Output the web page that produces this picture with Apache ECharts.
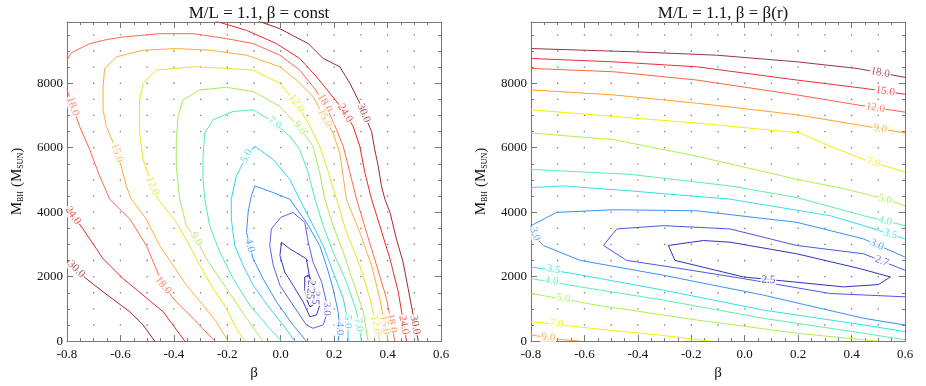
<!DOCTYPE html>
<html>
<head>
<meta charset="utf-8">
<script src="https://cdn.jsdelivr.net/npm/echarts@6/dist/echarts.min.js"></script>
<style>
html, body { margin: 0; padding: 0; background: #fff; }
#chart { width: 926px; height: 386px; }
</style>
</head>
<body>
<div id="chart"></div>
<script>
var FONT = "'Liberation Serif', 'DejaVu Serif', serif";

var betaMin = -0.8, betaMax = 0.6, betaStep = 0.2;
var massMin = 0, massMax = 9900, massStep = 2000;
var titles = ["M/L = 1.1, \u03b2 = const", "M/L = 1.1, \u03b2 = \u03b2(r)"];

// model grid points (dots)
var sampleBetas = [-0.7, -0.6, -0.5, -0.4, -0.3, -0.2, -0.1, 0.0, 0.1, 0.2, 0.3, 0.4, 0.5];
var sampleMasses = [500, 1000, 1500, 2000, 2500, 3000, 3500, 4000, 4500, 5000, 5500, 6000, 6500, 7000, 7500, 8000, 8500, 9000, 9500];

// ---- left panel: beta = const ----
var constLevels = ["2.25", "2.5", "3.0", "4.0", "5.0", "7.0", "9.0", "12.0", "15.0", "18.0", "24.0", "30.0"];
var constColors = ["#2a20a8", "#3a36cc", "#5a64e6", "#3a8ef6", "#36d2f2", "#52eab4", "#a6ea5a", "#ece418", "#ffac3a", "#ff6a48", "#e82a2a", "#a02a2a"];

var const30Right = [[-0.091,9949],[-0.003,9692],[0.103,9230],[0.159,8768],[0.221,8511],[0.259,7998],[0.296,7381],[0.321,6868],[0.340,6508],[0.352,5944],[0.365,5430],[0.377,4814],[0.390,4403],[0.409,3992],[0.433,3171],[0.458,2452],[0.477,1630],[0.496,809],[0.515,0]];
var const30Left = [[-0.8,2503],[-0.728,1938],[-0.665,1527],[-0.615,1219],[-0.565,911],[-0.515,500],[-0.472,0]];
var const24Right = [[-0.253,9949],[-0.228,9887],[-0.128,9641],[-0.016,9230],[0.071,8768],[0.134,8203],[0.184,7689],[0.234,7176],[0.271,6662],[0.296,6046],[0.315,5225],[0.340,4403],[0.371,3581],[0.409,2554],[0.440,1527],[0.471,0]];
var const24Left = [[-0.8,4146],[-0.740,3479],[-0.665,2554],[-0.590,1938],[-0.515,1425],[-0.440,911],[-0.359,0]];
var const18Top = [[-0.8,8716],[-0.784,8942],[-0.715,9230],[-0.653,9353],[-0.590,9435],[-0.453,9538],[-0.328,9538],[-0.203,9384],[-0.103,9230],[-0.003,8870],[0.071,8408],[0.121,7895],[0.165,7381],[0.209,6560],[0.234,6046],[0.259,5225],[0.284,4403],[0.321,3376],[0.359,2349],[0.396,1322],[0.427,0]];
var const18Left = [[-0.8,7792],[-0.778,7279],[-0.753,6662],[-0.715,5944],[-0.678,5122],[-0.640,4403],[-0.565,3787],[-0.503,2965],[-0.440,1733],[-0.391,1219],[-0.328,706],[-0.247,0]];
var const15 = [[-0.197,0],[-0.241,603],[-0.291,1116],[-0.353,1733],[-0.403,2349],[-0.453,2965],[-0.503,3787],[-0.559,4403],[-0.578,4814],[-0.597,5430],[-0.621,6046],[-0.653,6662],[-0.665,7176],[-0.665,7895],[-0.659,8460],[-0.615,8819],[-0.515,9025],[-0.391,9076],[-0.266,9025],[-0.128,8870],[-0.003,8511],[0.059,8100],[0.121,7587],[0.165,6919],[0.196,6457],[0.221,5841],[0.246,4403],[0.296,3376],[0.340,2349],[0.371,1322],[0.402,0]];
var const12 = [[-0.135,0],[-0.166,398],[-0.203,1014],[-0.253,1630],[-0.303,2349],[-0.341,2965],[-0.391,3684],[-0.459,4403],[-0.490,5019],[-0.515,5635],[-0.528,6457],[-0.528,7484],[-0.515,7998],[-0.465,8408],[-0.328,8511],[-0.203,8460],[-0.103,8408],[-0.003,7998],[0.059,7381],[0.109,6663],[0.146,6046],[0.171,5430],[0.209,4403],[0.246,3376],[0.296,2349],[0.334,1322],[0.371,0]];
var const9 = [[-0.066,0],[-0.128,706],[-0.178,1322],[-0.228,1938],[-0.278,2554],[-0.316,3171],[-0.353,3581],[-0.378,4403],[-0.391,5430],[-0.391,6252],[-0.384,6971],[-0.366,7484],[-0.303,7792],[-0.203,7874],[-0.103,7741],[-0.003,7279],[0.071,6611],[0.121,6046],[0.146,5225],[0.165,4403],[0.196,3581],[0.234,2760],[0.271,1836],[0.309,911],[0.327,0]];
var const7 = [[0.003,0],[-0.053,500],[-0.116,1116],[-0.178,1938],[-0.228,2760],[-0.266,3581],[-0.284,4403],[-0.291,5019],[-0.291,5738],[-0.284,6457],[-0.253,6868],[-0.178,7125],[-0.103,7176],[-0.022,6765],[0.034,6354],[0.071,5944],[0.103,5225],[0.128,4403],[0.159,3581],[0.196,2760],[0.246,1836],[0.284,911],[0.302,0]];
var const5 = [[0.053,0],[0.009,500],[-0.041,1014],[-0.103,1733],[-0.141,2349],[-0.172,2965],[-0.185,3787],[-0.185,4403],[-0.166,5122],[-0.128,5738],[-0.097,6046],[-0.028,5635],[0.034,5019],[0.071,4403],[0.109,3787],[0.159,2965],[0.196,2144],[0.234,1322],[0.252,603],[0.252,0]];
var const4 = [[0.096,0],[0.046,500],[-0.016,1219],[-0.066,1938],[-0.103,2554],[-0.116,2965],[-0.128,3376],[-0.122,3992],[-0.110,4506],[-0.097,4814],[-0.028,4608],[0.034,4403],[0.096,3684],[0.146,2965],[0.171,2349],[0.196,1630],[0.215,911],[0.221,398],[0.215,0]];
var const3 = [[0.0,3838],[-0.035,3479],[-0.041,2965],[-0.028,2349],[-0.003,1733],[0.046,1116],[0.096,500],[0.121,398],[0.159,500],[0.171,809],[0.171,1219],[0.153,1836],[0.121,2452],[0.103,3068],[0.090,3684],[0.046,3992],[0.0,3838]];
var const25 = [[0.003,3068],[0.034,2862],[0.096,2554],[0.109,1938],[0.134,1527],[0.146,1116],[0.134,809],[0.109,757],[0.084,1219],[0.046,1733],[0.015,2144],[-0.003,2657],[0.003,3068]];
var const225 = [[0.090,1990],[0.103,2041],[0.121,1836],[0.128,1425],[0.121,1116],[0.109,1065],[0.096,1322],[0.090,1630],[0.090,1990]];

var constSegments = [
    ["30.0", const30Right], ["30.0", const30Left], ["24.0", const24Right], ["24.0", const24Left],
    ["18.0", const18Top], ["18.0", const18Left], ["15.0", const15], ["12.0", const12],
    ["9.0", const9], ["7.0", const7], ["5.0", const5], ["4.0", const4],
    ["3.0", const3], ["2.5", const25], ["2.25", const225]
];
// contour labels: level, beta, mass, angle
var constLabels = [
    ["30.0", 0.311, 7073, -68], ["30.0", 0.503, 500, -79], ["30.0", -0.765, 2230, -44],
    ["24.0", 0.241, 7073, -59], ["24.0", 0.461, 500, -80], ["24.0", -0.778, 3900, -54],
    ["18.0", 0.165, 7381, -60], ["18.0", -0.778, 7279, -71], ["18.0", -0.44, 1733, -52], ["18.0", 0.415, 550, -79],
    ["15.0", 0.165, 6919, -62], ["15.0", -0.613, 5841, -72], ["15.0", 0.390, 500, -79],
    ["12.0", 0.059, 7381, -55], ["12.0", -0.48, 4814, -67], ["12.0", 0.357, 500, -77],
    ["9.0", 0.071, 6611, -50], ["9.0", -0.316, 3171, -58],
    ["7.0", -0.022, 6765, -37], ["7.0", 0.292, 500, -81],
    ["5.0", -0.128, 5738, 63], ["5.0", 0.252, 603, -90],
    ["4.0", -0.116, 2965, -76], ["4.0", 0.221, 398, -90],
    ["3.0", 0.171, 1000, -90], ["2.5", 0.130, 1350, -95], ["2.25", 0.112, 1600, -95]
];

// ---- right panel: beta = beta(r) ----
var radLevels = ["2.5", "2.7", "3.0", "3.5", "4.0", "5.0", "7.0", "9.0", "12.0", "15.0", "18.0"];
var radColors = ["#3232c0", "#4a58e8", "#3a90fa", "#34e0ea", "#5ef0a8", "#b0f050", "#f4f000", "#ffa424", "#ff6444", "#e8303c", "#a03040"];

var rad18 = [[-0.8,9076],[-0.404,8973],[-0.105,8870],[0.195,8665],[0.42,8460],[0.6,8182]];
var rad15 = [[-0.8,8768],[-0.492,8665],[-0.18,8511],[0.195,8100],[0.445,7843],[0.6,7659]];
var rad12 = [[-0.8,8460],[-0.492,8357],[-0.18,8100],[0.195,7638],[0.42,7330],[0.6,7104]];
var rad9 = [[-0.8,7792],[-0.492,7638],[-0.18,7381],[0.195,7022],[0.42,6714],[0.6,6457]];
var rad9Low = [[-0.8,193],[-0.704,60],[-0.616,0]];
var rad7 = [[-0.8,7176],[-0.492,6970],[-0.18,6765],[0.207,6457],[0.32,6046],[0.445,5635],[0.6,5245]];
var rad7Low = [[-0.8,604],[-0.554,378],[-0.304,173],[-0.13,0]];
var rad5 = [[-0.8,6457],[-0.492,6251],[-0.18,5738],[0.195,5019],[0.382,4711],[0.526,4404],[0.6,4198]];
var rad5Low = [[-0.8,1477],[-0.554,1117],[-0.18,655],[0.195,244],[0.495,0]];
var rad4 = [[-0.8,5327],[-0.429,5173],[-0.055,4814],[0.195,4455],[0.445,3890],[0.6,3582]];
var rad4Low = [[-0.8,1939],[-0.616,1682],[-0.304,1271],[0.07,707],[0.445,244],[0.6,39]];
var rad35 = [[-0.8,4763],[-0.679,4814],[-0.429,4660],[-0.055,4404],[0.32,3890],[0.445,3582],[0.6,3171]];
var rad35Low = [[-0.8,2299],[-0.641,2093],[-0.304,1580],[0.07,963],[0.445,501],[0.6,296]];
var rad3 = [[0.6,2607],[0.445,3171],[0.195,3685],[-0.18,4044],[-0.492,4075],[-0.704,3993],[-0.8,3582],[-0.797,3326],[-0.754,2966],[-0.616,2504],[-0.304,2042],[0.07,1426],[0.445,707],[0.6,501]];
var rad27 = [[0.6,2196],[0.445,2709],[0.195,2966],[-0.055,3480],[-0.304,3582],[-0.479,3480],[-0.529,2966],[-0.442,2504],[-0.254,2268],[-0.005,1939],[0.32,1477],[0.6,1374]];
var rad25 = [[-0.286,2966],[-0.261,2504],[-0.005,1990],[0.37,1682],[0.501,1754],[0.545,1990],[0.432,2247],[0.195,2709],[-0.055,3069],[-0.155,3120],[-0.286,2966]];

var radSegments = [
    ["18.0", rad18], ["15.0", rad15], ["12.0", rad12], ["9.0", rad9], ["9.0", rad9Low],
    ["7.0", rad7], ["7.0", rad7Low], ["5.0", rad5], ["5.0", rad5Low], ["4.0", rad4], ["4.0", rad4Low],
    ["3.5", rad35], ["3.5", rad35Low], ["3.0", rad3], ["2.7", rad27], ["2.5", rad25]
];
var radLabels = [
    ["18.0", 0.507, 8326, -11], ["15.0", 0.526, 7750, -8], ["12.0", 0.489, 7243, -9], ["9.0", 0.507, 6590, -10],
    ["7.0", 0.482, 5542, -17], ["5.0", 0.526, 4404, -15], ["4.0", 0.526, 3729, -14], ["3.5", 0.545, 3317, -18],
    ["3.0", 0.495, 2989, -24], ["2.7", 0.513, 2484, -22], ["2.5", 0.089, 1900, -2],
    ["3.0", -0.785, 3326, -70], ["3.5", -0.716, 2227, -9], ["4.0", -0.723, 1867, -8],
    ["5.0", -0.679, 1323, -10], ["7.0", -0.704, 540, -8], ["9.0", -0.735, 120, -5]
];

function level_color(levels, colors, level) {
    return colors[levels.indexOf(level)];
}

function build_contours(segments, levels, colors, axis) {
    var out = [];
    segments.forEach(function (seg) {
        out.push({
            type: "line",
            xAxisIndex: axis,
            yAxisIndex: axis,
            data: seg[1],
            symbol: "none",
            silent: true,
            animation: false,
            z: 3,
            lineStyle: {color: level_color(levels, colors, seg[0]), width: 1}
        });
    });
    return out;
}

function build_labels(labels, levels, colors, axis) {
    var data = labels.map(function (l) {
        var c = level_color(levels, colors, l[0]);
        return {
            name: l[0],
            value: [l[1], l[2]],
            label: {rotate: l[3], color: c}
        };
    });
    return {
        type: "scatter",
        xAxisIndex: axis,
        yAxisIndex: axis,
        data: data,
        symbolSize: 1,
        itemStyle: {color: "rgba(0,0,0,0)"},
        silent: true,
        animation: false,
        z: 5,
        labelLayout: {hideOverlap: false},
        label: {
            show: true,
            position: "inside",
            formatter: "{b}",
            fontFamily: FONT,
            fontSize: 11,
            backgroundColor: "#fff",
            padding: [0, 1]
        }
    };
}

function build_dots(axis) {
    var pts = [];
    sampleBetas.forEach(function (b) {
        sampleMasses.forEach(function (m) {
            pts.push([b, m]);
        });
    });
    return {
        type: "scatter",
        xAxisIndex: axis,
        yAxisIndex: axis,
        data: pts,
        symbol: "rect",
        symbolSize: 1.3,
        itemStyle: {color: "#555"},
        silent: true,
        animation: false,
        z: 1
    };
}

function x_axis(grid, top) {
    return {
        type: "value",
        gridIndex: grid,
        position: top ? "top" : "bottom",
        min: betaMin,
        max: betaMax,
        interval: betaStep,
        name: top ? "" : "\u03b2",
        nameLocation: "middle",
        nameGap: 24,
        nameTextStyle: {fontFamily: FONT, fontSize: 15, color: "#111"},
        axisLine: {show: true, onZero: false, lineStyle: {color: "#777", width: 1}},
        axisTick: {show: true, inside: true, length: 6, lineStyle: {color: "#777"}},
        minorTick: {show: true, splitNumber: 4, length: 3, lineStyle: {color: "#777"}},
        splitLine: {show: false},
        axisLabel: {
            show: !top,
            margin: 7,
            fontFamily: FONT,
            fontSize: 13,
            color: "#111",
            formatter: function (v) { return v.toFixed(1); }
        }
    };
}

function y_axis(grid, right) {
    return {
        type: "value",
        gridIndex: grid,
        position: right ? "right" : "left",
        min: massMin,
        max: massMax,
        interval: massStep,
        name: right ? "" : "M{sub|BH} (M{sub|SUN})",
        nameLocation: "middle",
        nameRotate: 90,
        nameGap: 42,
        nameTextStyle: {
            fontFamily: FONT, fontSize: 15, color: "#111",
            rich: {
                sub: {fontFamily: FONT, fontSize: 8, color: "#111", padding: [6, 0, 0, 0]}
            }
        },
        axisLine: {show: true, onZero: false, lineStyle: {color: "#777", width: 1}},
        axisTick: {show: true, inside: true, length: 6, lineStyle: {color: "#777"}},
        minorTick: {show: true, splitNumber: 4, length: 3, lineStyle: {color: "#777"}},
        splitLine: {show: false},
        axisLabel: {
            show: !right,
            margin: 4,
            fontFamily: FONT,
            fontSize: 13,
            color: "#111",
            showMaxLabel: false,
            formatter: function (v) { return v % massStep === 0 ? String(v) : ""; }
        }
    };
}

var chart = echarts.init(document.getElementById("chart"), null, {renderer: "canvas"});

var series = [build_dots(0), build_dots(1)]
    .concat(build_contours(constSegments, constLevels, constColors, 0))
    .concat(build_contours(radSegments, radLevels, radColors, 1))
    .concat([build_labels(constLabels, constLevels, constColors, 0), build_labels(radLabels, radLevels, radColors, 1)]);

var option = {
    backgroundColor: "#fff",
    animation: false,
    title: [
        {text: titles[0], left: 254, top: 0, textAlign: "center", textStyle: {fontFamily: FONT, fontSize: 17, fontWeight: "normal", color: "#111"}},
        {text: titles[1], left: 718, top: 0, textAlign: "center", textStyle: {fontFamily: FONT, fontSize: 17, fontWeight: "normal", color: "#111"}}
    ],
    grid: [
        {left: 67, top: 22, width: 374, height: 321},
        {left: 531, top: 22, width: 374, height: 321}
    ],
    xAxis: [x_axis(0, false), x_axis(1, false), x_axis(0, true), x_axis(1, true)],
    yAxis: [y_axis(0, false), y_axis(1, false), y_axis(0, true), y_axis(1, true)],
    series: series
};

chart.setOption(option);
</script>
</body>
</html>
